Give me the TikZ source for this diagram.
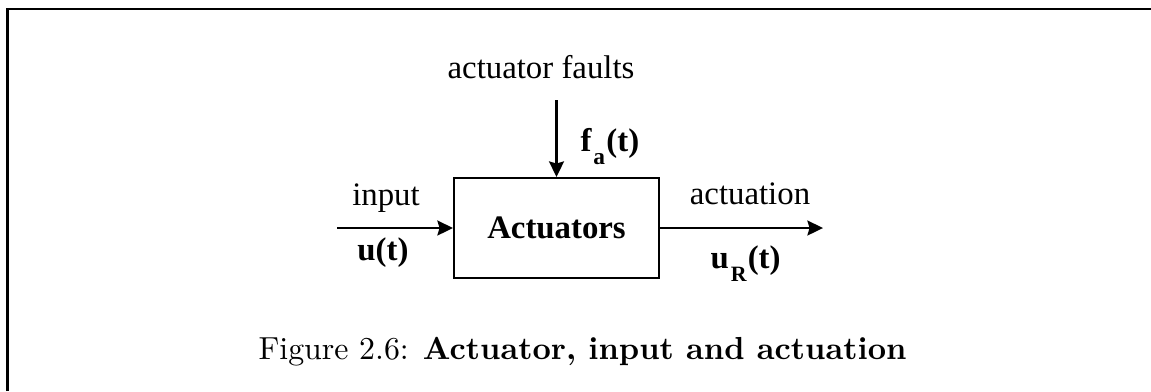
\documentclass[tikz,border=0pt]{standalone}
\usepackage{fontspec}
\newfontfamily\timesfont{Liberation Serif}
\usetikzlibrary{arrows.meta}
\newcommand\lowsub[2]{\kern.6pt\raisebox{-4.2pt}{\fontsize{#1}{9}\selectfont #2}\kern.4pt}
\tikzset{block/.style={draw,line width=.65pt,minimum width=65.6pt,minimum height=32pt,inner sep=0pt,
    font=\timesfont\fontsize{10.5}{12}\selectfont\bfseries},
  lbl/.style={inner sep=0pt,font=\timesfont\fontsize{10.5}{12}\selectfont},
  sig/.style={lbl,font=\timesfont\fontsize{10.5}{12}\selectfont\bfseries},
  arrow/.style={-{Stealth[length=5pt,width=4.8pt,inset=.7pt]},line width=.65pt}}

\begin{document}
\begin{tikzpicture}[x=.32pt,y=-.32pt]
  \path[use as bounding box] (0,0) rectangle (1151,391);
  \draw[line width=.65pt] (7.5,391) -- (7.5,9) -- (1151,9);
  \node[block] (act) at (556.5,228) {Actuators};
  \coordinate (in) at (337,228);
  \coordinate (out) at (823,228);
  \coordinate (flt) at (556.5,100);
  \draw[arrow] (in) -- (act.west);
  \draw[arrow] (act.east) -- (out);
  \draw[arrow] (flt) -- (act.north);
  \node[lbl,anchor=base] (fltlbl) at (541,78) {actuator faults};
  \node[sig,anchor=base west] (fa) at (580,151) {f\lowsub{7.5}{a}(t)};
  \node[lbl,anchor=base] (inlbl) at (386,205) {input};
  \node[sig,anchor=base] (u) at (383,260) {u(t)};
  \node[lbl,anchor=base] (outlbl) at (750,204) {actuation};
  \node[sig,anchor=base west] (ur) at (710,268) {u\lowsub{7}{R}(t)};
  \node[inner sep=0pt,anchor=base west,font=\fontsize{10.2}{12}\selectfont] (cap) at (258,359)
    {Figure 2.6: \textbf{Actuator, input and actuation}};
\end{tikzpicture}
\end{document}
